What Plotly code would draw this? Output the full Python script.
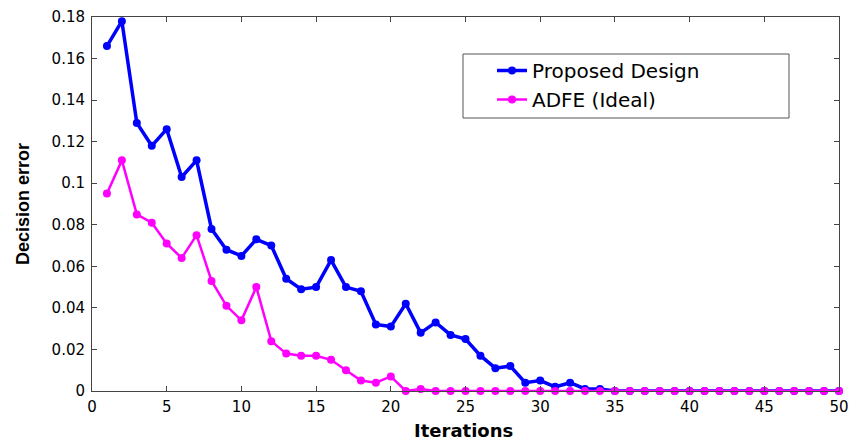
import plotly.graph_objects as go

iterations = list(range(1, 51))
proposed = [0.166, 0.178, 0.129, 0.118, 0.126, 0.103, 0.111, 0.078, 0.068, 0.065,
            0.073, 0.070, 0.054, 0.049, 0.050, 0.063, 0.050, 0.048, 0.032, 0.031,
            0.042, 0.028, 0.033, 0.027, 0.025, 0.017, 0.011, 0.012, 0.004, 0.005,
            0.002, 0.004, 0.001, 0.001, 0.0, 0.0, 0.0, 0.0, 0.0, 0.0,
            0.0, 0.0, 0.0, 0.0, 0.0, 0.0, 0.0, 0.0, 0.0, 0.0]
adfe = [0.095, 0.111, 0.085, 0.081, 0.071, 0.064, 0.075, 0.053, 0.041, 0.034,
        0.050, 0.024, 0.018, 0.017, 0.017, 0.015, 0.010, 0.005, 0.004, 0.007,
        0.0, 0.001, 0.0, 0.0, 0.0, 0.0, 0.0, 0.0, 0.0, 0.0,
        0.0, 0.0, 0.0, 0.0, 0.0, 0.0, 0.0, 0.0, 0.0, 0.0,
        0.0, 0.0, 0.0, 0.0, 0.0, 0.0, 0.0, 0.0, 0.0, 0.0]

x_ticks = [0, 5, 10, 15, 20, 25, 30, 35, 40, 45, 50]
y_ticks = [0, 0.02, 0.04, 0.06, 0.08, 0.1, 0.12, 0.14, 0.16, 0.18]
y_tick_labels = ["0", "0.02", "0.04", "0.06", "0.08", "0.1", "0.12", "0.14", "0.16", "0.18"]

fig = go.Figure()
fig.add_trace(go.Scatter(x=iterations, y=proposed, mode="lines+markers",
                         name="Proposed Design",
                         line=dict(color="#0000ff", width=3.5),
                         marker=dict(color="#0000ff", size=8, symbol="circle"),
                         cliponaxis=False))
fig.add_trace(go.Scatter(x=iterations, y=adfe, mode="lines+markers",
                         name="ADFE (Ideal)",
                         line=dict(color="#ff00ff", width=2.5),
                         marker=dict(color="#ff00ff", size=8, symbol="circle"),
                         cliponaxis=False))

tick_font = dict(family="DejaVu Sans, sans-serif", size=15, color="black")

W, H = 862, 440
L, R, T, B = 92, 23, 17, 49
plot_w = W - L - R
plot_h = H - T - B


def px_x(p):
    return (p - L) / plot_w


def px_y(p):
    return (H - B - p) / plot_h


# legend frame (drawn as a paper-space rectangle)
fig.add_shape(type="rect", xref="paper", yref="paper",
              x0=px_x(463), x1=px_x(789), y0=px_y(118), y1=px_y(54),
              line=dict(color="#555555", width=1), fillcolor="white", layer="below")

# axis titles as annotations so the plot area keeps its exact size
fig.add_annotation(text="<b>Iterations</b>", xref="paper", yref="paper",
                   x=px_x(463), y=px_y(430), xanchor="center", yanchor="middle",
                   showarrow=False,
                   font=dict(family="DejaVu Sans, sans-serif", size=18, color="black"))
fig.add_annotation(text="<b>Decision error</b>", xref="paper", yref="paper",
                   x=px_x(23), y=px_y(204), xanchor="center", yanchor="middle",
                   textangle=-90, showarrow=False,
                   font=dict(family="Liberation Sans, Arial, sans-serif", size=18, color="black"))

fig.update_layout(
    width=W, height=H,
    margin=dict(l=L, r=R, t=T, b=B),
    paper_bgcolor="white", plot_bgcolor="white",
    showlegend=True,
    legend=dict(x=px_x(492), y=px_y(51),
                xanchor="left", yanchor="top",
                bgcolor="rgba(0,0,0,0)", borderwidth=0,
                font=dict(family="DejaVu Sans, sans-serif", size=20, color="black"),
                itemwidth=30),
    xaxis=dict(range=[0, 50], tickvals=x_ticks, ticks="inside", ticklen=5,
               tickcolor="#444", showline=True, linecolor="#444", linewidth=1,
               mirror="ticks", showgrid=False, zeroline=False, automargin=False,
               tickfont=tick_font, ticklabelstandoff=2),
    yaxis=dict(range=[0, 0.18], tickvals=y_ticks, ticktext=y_tick_labels,
               ticks="inside", ticklen=5, tickcolor="#444",
               showline=True, linecolor="#444", linewidth=1,
               mirror="ticks", showgrid=False, zeroline=False, automargin=False,
               tickfont=tick_font, ticklabelstandoff=3),
)

fig.write_html("out.html")
